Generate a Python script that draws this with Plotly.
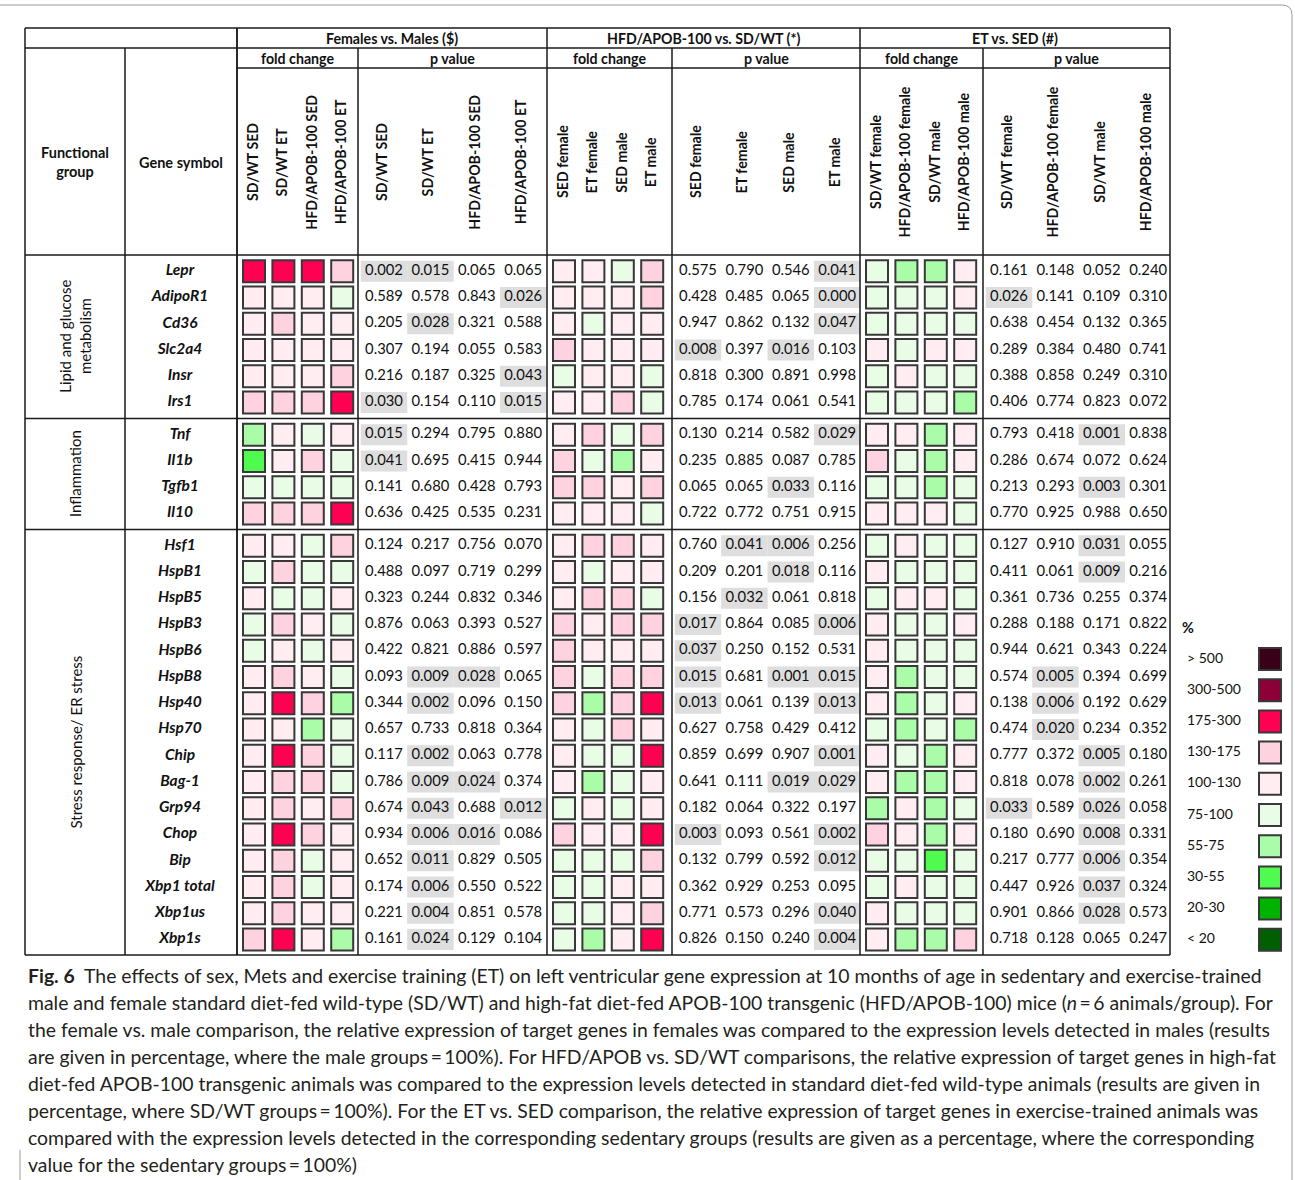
import plotly.graph_objects as go

# ---------------- data ----------------
genes = ["Lepr", "AdipoR1", "Cd36", "Slc2a4", "Insr", "Irs1",
         "Tnf", "Il1b", "Tgfb1", "Il10",
         "Hsf1", "HspB1", "HspB5", "HspB3", "HspB6", "HspB8", "Hsp40", "Hsp70",
         "Chip", "Bag-1", "Grp94", "Chop", "Bip", "Xbp1 total", "Xbp1us", "Xbp1s"]
group_names = ["Lipid and glucose<br>metabolism", "Inflammation", "Stress response/ ER stress"]
group_sizes = [6, 4, 16]

comparisons = ["Females vs. Males ($)", "HFD/APOB-100 vs. SD/WT (*)", "ET vs. SED (#)"]
col_labels = [
    ["SD/WT SED", "SD/WT ET", "HFD/APOB-100 SED", "HFD/APOB-100 ET"],
    ["SED female", "ET female", "SED male", "ET male"],
    ["SD/WT female", "HFD/APOB-100 female", "SD/WT male", "HFD/APOB-100 male"],
]

legend_bins = ["> 500", "300-500", "175-300", "130-175", "100-130",
               "75-100", "55-75", "30-55", "20-30", "< 20"]
legend_colors = ["#3b0019", "#8c0037", "#ff0052", "#fed2de", "#ffedf2",
                 "#e9fce6", "#aafca8", "#4efb4e", "#00b300", "#005f00"]

# fold-change classes (legend bin) per gene, 4 columns each
code_to_bin = {"R": "175-300", "P": "130-175", "p": "100-130",
               "g": "75-100", "G": "55-75", "M": "30-55"}
fc_sex = ["RRRP", "pppg", "pPpp", "pppp", "pppP", "PPPR",
          "Gpgp", "MpPg", "gggg", "PPPR",
          "ppgP", "gPgg", "pggp", "gPpg", "gpgp", "pPpg", "pRPG", "ppGg",
          "pRPg", "pPPg", "pPpP", "pRPp", "pPgp", "pPgp", "pPpp", "PRpG"]
fc_hfd = ["ppgP", "pppP", "pgpp", "Pppp", "gppg", "ppPg",
          "pPgP", "PgGp", "PPpP", "pppg",
          "pPPp", "pgpp", "pPPg", "PpPP", "Pppp", "PgPP", "PGPR", "pgPp",
          "pggR", "pGgp", "gpgp", "PppR", "gggP", "ggpp", "ggpP", "gGpR"]
fc_et = ["gGGp", "gggp", "gggg", "pgpp", "gpgg", "gggG",
         "ppGp", "PgGp", "ggGg", "pppg",
         "gpgg", "pggg", "gppg", "pggp", "pggg", "pGgg", "pGgp", "gGgG",
         "pgGp", "pGGp", "GpGg", "PpGp", "ggMg", "gpgg", "pggg", "pGGP"]

p_sex = [[0.002, 0.015, 0.065, 0.065], [0.589, 0.578, 0.843, 0.026], [0.205, 0.028, 0.321, 0.588],
         [0.307, 0.194, 0.055, 0.583], [0.216, 0.187, 0.325, 0.043], [0.030, 0.154, 0.110, 0.015],
         [0.015, 0.294, 0.795, 0.880], [0.041, 0.695, 0.415, 0.944], [0.141, 0.680, 0.428, 0.793],
         [0.636, 0.425, 0.535, 0.231],
         [0.124, 0.217, 0.756, 0.070], [0.488, 0.097, 0.719, 0.299], [0.323, 0.244, 0.832, 0.346],
         [0.876, 0.063, 0.393, 0.527], [0.422, 0.821, 0.886, 0.597], [0.093, 0.009, 0.028, 0.065],
         [0.344, 0.002, 0.096, 0.150], [0.657, 0.733, 0.818, 0.364], [0.117, 0.002, 0.063, 0.778],
         [0.786, 0.009, 0.024, 0.374], [0.674, 0.043, 0.688, 0.012], [0.934, 0.006, 0.016, 0.086],
         [0.652, 0.011, 0.829, 0.505], [0.174, 0.006, 0.550, 0.522], [0.221, 0.004, 0.851, 0.578],
         [0.161, 0.024, 0.129, 0.104]]
p_hfd = [[0.575, 0.790, 0.546, 0.041], [0.428, 0.485, 0.065, 0.000], [0.947, 0.862, 0.132, 0.047],
         [0.008, 0.397, 0.016, 0.103], [0.818, 0.300, 0.891, 0.998], [0.785, 0.174, 0.061, 0.541],
         [0.130, 0.214, 0.582, 0.029], [0.235, 0.885, 0.087, 0.785], [0.065, 0.065, 0.033, 0.116],
         [0.722, 0.772, 0.751, 0.915],
         [0.760, 0.041, 0.006, 0.256], [0.209, 0.201, 0.018, 0.116], [0.156, 0.032, 0.061, 0.818],
         [0.017, 0.864, 0.085, 0.006], [0.037, 0.250, 0.152, 0.531], [0.015, 0.681, 0.001, 0.015],
         [0.013, 0.061, 0.139, 0.013], [0.627, 0.758, 0.429, 0.412], [0.859, 0.699, 0.907, 0.001],
         [0.641, 0.111, 0.019, 0.029], [0.182, 0.064, 0.322, 0.197], [0.003, 0.093, 0.561, 0.002],
         [0.132, 0.799, 0.592, 0.012], [0.362, 0.929, 0.253, 0.095], [0.771, 0.573, 0.296, 0.040],
         [0.826, 0.150, 0.240, 0.004]]
p_et = [[0.161, 0.148, 0.052, 0.240], [0.026, 0.141, 0.109, 0.310], [0.638, 0.454, 0.132, 0.365],
        [0.289, 0.384, 0.480, 0.741], [0.388, 0.858, 0.249, 0.310], [0.406, 0.774, 0.823, 0.072],
        [0.793, 0.418, 0.001, 0.838], [0.286, 0.674, 0.072, 0.624], [0.213, 0.293, 0.003, 0.301],
        [0.770, 0.925, 0.988, 0.650],
        [0.127, 0.910, 0.031, 0.055], [0.411, 0.061, 0.009, 0.216], [0.361, 0.736, 0.255, 0.374],
        [0.288, 0.188, 0.171, 0.822], [0.944, 0.621, 0.343, 0.224], [0.574, 0.005, 0.394, 0.699],
        [0.138, 0.006, 0.192, 0.629], [0.474, 0.020, 0.234, 0.352], [0.777, 0.372, 0.005, 0.180],
        [0.818, 0.078, 0.002, 0.261], [0.033, 0.589, 0.026, 0.058], [0.180, 0.690, 0.008, 0.331],
        [0.217, 0.777, 0.006, 0.354], [0.447, 0.926, 0.037, 0.324], [0.901, 0.866, 0.028, 0.573],
        [0.718, 0.128, 0.065, 0.247]]

caption_lines = [
    "<b>Fig. 6</b>  The effects of sex, Mets and exercise training (ET) on left ventricular gene expression at 10 months of age in sedentary and exercise-trained",
    "male and female standard diet-fed wild-type (SD/WT) and high-fat diet-fed APOB-100 transgenic (HFD/APOB-100) mice (<i>n</i>\u2009=\u20096 animals/group). For",
    "the female vs. male comparison, the relative expression of target genes in females was compared to the expression levels detected in males (results",
    "are given in percentage, where the male groups\u2009=\u2009100%). For HFD/APOB vs. SD/WT comparisons, the relative expression of target genes in high-fat",
    "diet-fed APOB-100 transgenic animals was compared to the expression levels detected in standard diet-fed wild-type animals (results are given in",
    "percentage, where SD/WT groups\u2009=\u2009100%). For the ET vs. SED comparison, the relative expression of target genes in exercise-trained animals was",
    "compared with the expression levels detected in the corresponding sedentary groups (results are given as a percentage, where the corresponding",
    "value for the sedentary groups\u2009=\u2009100%)",
]

# ---------------- layout constants ----------------
W, H = 1295, 1180
FONT = "Lato"
TL, TR = 25, 1170
Y_TOP, Y_H1, Y_H2, Y_BODY, Y_BOT = 28, 48, 68, 255, 955
X_FG, X_GENE = 125, 237
BLOCKS = [(237, 358, 547), (547, 672, 860), (860, 983, 1170)]  # fold-left, p-left, right
PITCH, PAD = 26.25, 3
SQ_OFF, SQ_PITCH = 17, 29.4
P_OFF, P_PITCH = 26, 46.4
LINE_C = "#1a1a1a"
HDR = 14.2

# row centres
row_y, group_bounds = [], []
top = Y_BODY
for n in group_sizes:
    for i in range(n):
        row_y.append(top + PAD + (i + 0.5) * PITCH)
    bot = top + 2 * PAD + n * PITCH
    group_bounds.append((top, bot))
    top = bot

bin_color = dict(zip(legend_bins, legend_colors))

fig = go.Figure()

# shading of significant p values
sx, sb = [], []
for b, pv in enumerate([p_sex, p_hfd, p_et]):
    pl = BLOCKS[b][1]
    for r, row in enumerate(pv):
        for c, v in enumerate(row):
            if v < 0.05:
                sx.append(pl + P_OFF + c * P_PITCH)
                sb.append(row_y[r] - 10.5)
fig.add_trace(go.Bar(x=sx, y=[21] * len(sx), base=sb, width=[46.5] * len(sx),
                     marker=dict(color="#dedede", line=dict(width=0)), hoverinfo="skip"))

# p value texts
for b, pv in enumerate([p_sex, p_hfd, p_et]):
    pl = BLOCKS[b][1]
    xs, ys, ts = [], [], []
    for r, row in enumerate(pv):
        for c, v in enumerate(row):
            xs.append(pl + P_OFF + c * P_PITCH)
            ys.append(row_y[r])
            ts.append(f"{v:.3f}")
    fig.add_trace(go.Scatter(x=xs, y=ys, text=ts, mode="text",
                             textfont=dict(family=FONT, size=14.8, color="#111"),
                             hoverinfo="skip"))

# fold change squares
for b, fc in enumerate([fc_sex, fc_hfd, fc_et]):
    fl = BLOCKS[b][0]
    xs, ys, cs = [], [], []
    for r, codes in enumerate(fc):
        for c, ch in enumerate(codes):
            xs.append(fl + SQ_OFF + c * SQ_PITCH)
            ys.append(row_y[r])
            cs.append(bin_color[code_to_bin[ch]])
    fig.add_trace(go.Scatter(x=xs, y=ys, mode="markers",
                             marker=dict(symbol="square", size=22, color=cs,
                                         line=dict(color="#383838", width=2)),
                             hoverinfo="skip"))

# gene names
fig.add_trace(go.Scatter(x=[180] * len(genes), y=row_y,
                         text=[f"<b><i>{g}</i></b>" for g in genes], mode="text",
                         textfont=dict(family=FONT, size=15.5, color="#111"), hoverinfo="skip"))

# legend
LEG_Y0, LEG_DY = 659, 31.2
leg_y = [LEG_Y0 + i * LEG_DY for i in range(len(legend_bins))]
fig.add_trace(go.Scatter(x=[1270] * len(legend_bins), y=leg_y, mode="markers",
                         marker=dict(symbol="square", size=22, color=legend_colors,
                                     line=dict(color="#383838", width=2)),
                         hoverinfo="skip"))
fig.add_trace(go.Scatter(x=[1187] * len(legend_bins), y=leg_y, text=legend_bins,
                         mode="text", textposition="middle right",
                         textfont=dict(family=FONT, size=14, color="#111"), hoverinfo="skip"))

ann = []
def A(x, y, t, size=13, bold=True, angle=0, xanchor="center", color="#111", italic=False):
    s = t
    if bold:
        s = f"<b>{s}</b>"
    if italic:
        s = f"<i>{s}</i>"
    ann.append(dict(x=x, y=y, xref="x", yref="y", text=s, showarrow=False,
                    textangle=angle, xanchor=xanchor, yanchor="middle",
                    font=dict(family=FONT, size=size, color=color)))

A(1188, 627, "%", size=14.5)

# headers
A((TL + X_FG) / 2, 162, "Functional<br>group", size=14.5)
A((X_FG + X_GENE) / 2, 162, "Gene symbol", size=14.5)
for b, (fl, pl, r) in enumerate(BLOCKS):
    A((fl + r) / 2, 38, comparisons[b], size=HDR)
    A((fl + pl) / 2, 58, "fold change", size=HDR)
    A((pl + r) / 2, 58, "p value", size=HDR)
    for c, lab in enumerate(col_labels[b]):
        A(fl + SQ_OFF + c * SQ_PITCH - 2, 162, lab, size=HDR, angle=-90)
        A(pl + P_OFF + c * P_PITCH - 3, 162, lab, size=HDR, angle=-90)

# group labels
for (t0, t1), name in zip(group_bounds, group_names):
    A((TL + X_FG) / 2, (t0 + t1) / 2, name, size=15, bold=False, angle=-90)

# caption
CAP_Y0, CAP_DY = 975, 27
for i, line in enumerate(caption_lines):
    A(26, CAP_Y0 + i * CAP_DY, line, size=19.4, bold=False, xanchor="left", color="#231f20")

# grid lines
shapes = []
def L(x0, y0, x1, y1, w=1.5, c=LINE_C):
    shapes.append(dict(type="line", xref="x", yref="y", x0=x0, y0=y0, x1=x1, y1=y1,
                       line=dict(color=c, width=w)))

for y in [Y_TOP, Y_H1]:
    L(TL, y, TR, y)
L(X_GENE, Y_H2, TR, Y_H2)
for (t0, t1) in group_bounds:
    L(TL, t0, TR, t0)
L(TL, Y_BOT, TR, Y_BOT)
for x in [TL, X_GENE] + [b[0] for b in BLOCKS] + [TR]:
    L(x, Y_TOP, x, Y_BOT)
L(X_FG, Y_H1, X_FG, Y_BOT)
for b in BLOCKS:
    L(b[1], Y_H1, b[1], Y_BOT)

# page frame (light grey, rounded top-right corner)
shapes.append(dict(type="path", xref="x", yref="y",
                   path="M 0 5 L 1282 5 Q 1292 5 1292 15 L 1292 1180",
                   line=dict(color="#9a9a9a", width=1)))
L(20, 1150, 20, 1180, w=1, c="#9a9a9a")

fig.update_layout(
    width=W, height=H, margin=dict(l=0, r=0, t=0, b=0, pad=0),
    paper_bgcolor="white", plot_bgcolor="white", showlegend=False,
    barmode="overlay",
    xaxis=dict(range=[0, W], visible=False, fixedrange=True),
    yaxis=dict(range=[H, 0], visible=False, fixedrange=True),
    annotations=ann, shapes=shapes,
)

fig.write_html("out.html", config={"displayModeBar": False},
               post_script="document.body.style.margin='0';document.body.style.overflow='hidden';")
